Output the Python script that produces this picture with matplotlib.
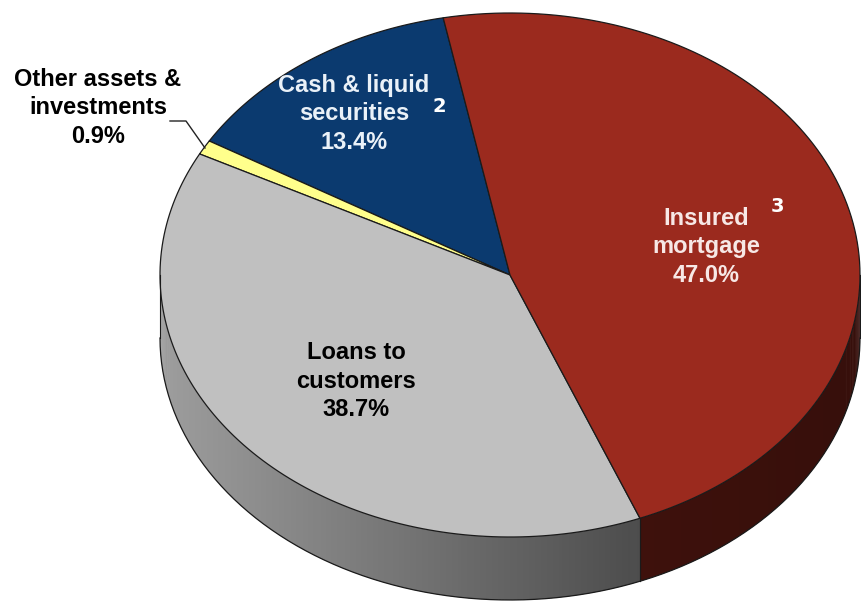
import numpy as np
import matplotlib.pyplot as plt
from matplotlib.colors import to_rgb
from matplotlib.patches import Polygon

# slice data (counter-clockwise from the top boundary)
labels = ["Cash & liquid\nsecurities\n13.4%",
          "Other assets &\ninvestments\n0.9%",
          "Loans to\ncustomers\n38.7%",
          "Insured\nmortgage\n47.0%"]
shares = [13.4, 0.9, 38.7, 47.0]
top_colors = ["#0b3a6f", "#ffff8c", "#c0c0c0", "#9b2a1e"]
text_colors = ["#eaf1f8", "black", "black", "#f7e8e6"]
footnotes = ["2", "", "", "3"]

# geometry of the pie (pixels)
cx, cy = 510, 275
a, b = 350, 262
depth = 63
start = 101.0

NARROW = ["Liberation Sans Narrow", "Liberation Sans", "DejaVu Sans"]


def pt(theta_deg, dz=0):
    t = np.radians(theta_deg)
    return cx + a * np.cos(t), cy - b * np.sin(t) + dz


def shade(x):
    # side gets darker from left to right
    return 0.82 - 0.42 * np.clip((x - 160) / 480, 0, 1) - 0.05 * np.clip((x - 640) / 220, 0, 1)


fig = plt.figure(figsize=(8.61, 6.02), dpi=100)
ax = fig.add_axes([0, 0, 1, 1])
ax.set_xlim(0, 861)
ax.set_ylim(602, 0)
ax.axis("off")

bounds = start + np.concatenate([[0], np.cumsum(shares)]) * 3.6

# side walls (only the front half, 180..360 deg)
for i, col in enumerate(top_colors):
    t0, t1 = bounds[i], bounds[i + 1]
    rgb = np.array(to_rgb(col))
    vis = []
    for off in (0, 360, -360):
        lo = max(t0 + off, 180)
        hi = min(t1 + off, 360)
        if hi > lo:
            vis.append((lo, hi))
    for lo, hi in vis:
        steps = np.linspace(lo, hi, max(2, int((hi - lo) / 0.5)))
        for s0, s1 in zip(steps[:-1], steps[1:]):
            s1b = min(s1 + 0.4, hi)
            x0, y0 = pt(s0)
            x1, y1 = pt(s1b)
            xm, _ = pt((s0 + s1) / 2)
            c = np.clip(rgb * shade(xm), 0, 1)
            ax.add_patch(Polygon([(x0, y0), (x1, y1), (x1, y1 + depth), (x0, y0 + depth)],
                                 closed=True, facecolor=c, linewidth=0))
        # vertical edge at the slice boundaries
        for s in (lo, hi):
            x, y = pt(s)
            ax.plot([x, x], [y, y + depth], color="#1a1a1a", lw=0.8)

# bottom outline of the side wall
arc = np.linspace(180, 360, 200)
bx, by = pt(arc, depth)
ax.plot(bx, by, color="#1a1a1a", lw=0.9)

# top faces
for i, col in enumerate(top_colors):
    ts = np.linspace(bounds[i], bounds[i + 1], 120)
    xs, ys = pt(ts)
    verts = [(cx, cy)] + list(zip(xs, ys))
    ax.add_patch(Polygon(verts, closed=True, facecolor=col, edgecolor="#1a1a1a",
                         linewidth=0.9, joinstyle="round"))

# labels
lab_pos = [(354, 114), (98, 108), (356, 381), (706, 247)]
for i, lab in enumerate(labels):
    x, y = lab_pos[i]
    ax.text(x, y, lab, ha="center", va="center", fontsize=17, fontweight="bold",
            color=text_colors[i], family=NARROW, linespacing=1.28)

# footnote markers
ax.text(439, 106, footnotes[0], ha="center", va="center", fontsize=14,
        fontweight="bold", color="white", family="DejaVu Sans")
ax.text(777, 206, footnotes[3], ha="center", va="center", fontsize=14,
        fontweight="bold", color="white", family="DejaVu Sans")

# leader line for the small slice
ax.plot([170, 186, 205], [121, 121, 148], color="#222222", lw=1.0)

fig.savefig("out.png", dpi=100)
